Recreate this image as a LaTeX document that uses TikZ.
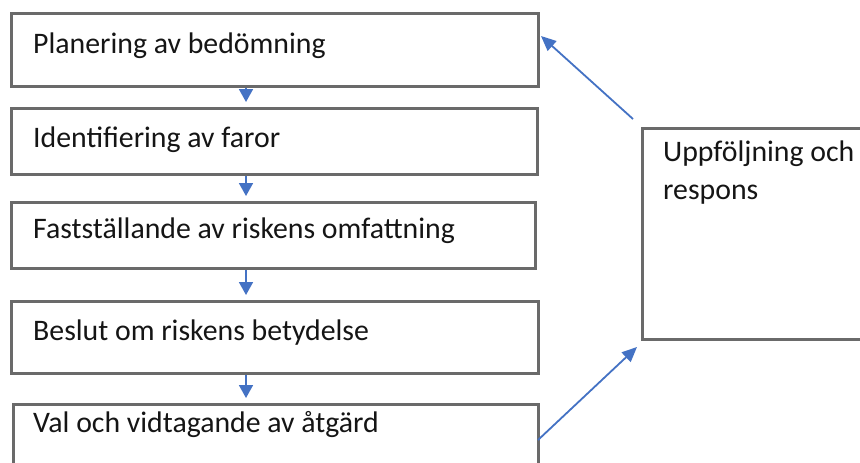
\documentclass[tikz,border=0pt]{standalone}
\usepackage{fontspec}
\setmainfont{Carlito}
\usetikzlibrary{arrows.meta}
\definecolor{boxgray}{HTML}{6A6A6A}
\definecolor{arrowblue}{HTML}{4472C4}
\definecolor{txt}{HTML}{151515}
\begin{document}
\begin{tikzpicture}[x=1pt,y=-1pt,
  stepbox/.style={draw=boxgray,line width=2.6pt,rectangle,inner sep=0pt,anchor=north west,fill=white},
  lbl/.style={anchor=base west,inner sep=0pt,text=txt,font=\fontsize{29.8}{38}\selectfont},
  flow/.style={draw=arrowblue,line width=1.8pt,-{Triangle[length=13pt,width=14pt]}},
  diag/.style={draw=arrowblue,line width=1.8pt,-{Triangle[length=15pt,width=13pt]}}]
\useasboundingbox (0,0) rectangle (860,463);
\clip (0,0) rectangle (860,463);
\fill[white] (0,0) rectangle (860,463);
% boxes
\node[stepbox,minimum width=527pt,minimum height=73pt] (b1) at (10,12) {};
\node[stepbox,minimum width=526pt,minimum height=66pt] (b2) at (10,107) {};
\node[stepbox,minimum width=524pt,minimum height=66pt] (b3) at (10,201) {};
\node[stepbox,minimum width=527pt,minimum height=72pt] (b4) at (10,300) {};
\node[stepbox,minimum width=525pt,minimum height=90pt] (b5) at (12,403) {};
\node[stepbox,minimum width=260pt,minimum height=211pt] (fb) at (641,127) {};
% labels
\node[lbl] (t1) at (33,53) {Planering av bedömning};
\node[lbl] (t2) at (33,147) {Identifiering av faror};
\node[lbl] (t3) at (33,238) {Fastställande av riskens omfattning};
\node[lbl] (t4) at (33,340) {Beslut om riskens betydelse};
\node[lbl] (t5) at (33,432) {Val och vidtagande av åtgärd};
\node[lbl,align=left,anchor=north west] (tf) at (663,141) {Uppföljning och\\respons};
% flow arrows
\coordinate (ax) at (246,0);
\draw[flow,shorten >=5pt] (b1.south -| ax) -- (b2.north -| ax);
\draw[flow,shorten >=5pt] (b2.south -| ax) -- (b3.north -| ax);
\draw[flow,shorten >=5pt] (b3.south -| ax) -- (b4.north -| ax);
\draw[flow,shorten >=5pt] (b4.south -| ax) -- (b5.north -| ax);
% feedback arrows
\coordinate (u1) at (633,119);
\coordinate (u2) at (541,36);
\coordinate (l1) at (538,440);
\coordinate (l2) at (637,347);
\draw[diag] (u1) -- (u2);
\draw[diag] (l1) -- (l2);
\end{tikzpicture}
\end{document}
